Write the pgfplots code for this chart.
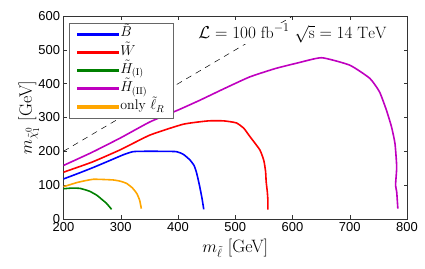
\documentclass[border=0pt]{standalone}
\usepackage{pgfplots}
\pgfplotsset{compat=1.18}
\usepackage{fontspec}
\newfontfamily\arialfont{Liberation Sans}
\definecolor{myblue}{rgb}{0,0,1}
\definecolor{myred}{rgb}{1,0,0}
\definecolor{mygreen}{rgb}{0,0.5,0}
\definecolor{mymag}{rgb}{0.75,0,0.75}
\definecolor{myorange}{rgb}{1,0.65,0}
\begin{document}
\begin{tikzpicture}
\useasboundingbox (-63.5bp,-50.2bp) rectangle (361.5bp,218.8bp);
\begin{axis}[
  scale only axis, width=343.5bp, height=202.6bp,
  xmin=200, xmax=800, ymin=0, ymax=600,
  xtick={200,300,...,800}, ytick={0,100,...,600},
  tick align=inside, tick pos=both,
  major tick length=3.5pt,
  axis line style={black!80, line width=0.6pt},
  every tick/.style={black!80, line width=0.5pt},
  /pgf/number format/assume math mode=true,
  tick label style={font=\arialfont\fontsize{13}{14}\selectfont},
  xlabel={\fontsize{18}{20}\selectfont$m_{\tilde\ell}$ [GeV]},
  ylabel={\fontsize{18}{20}\selectfont$m_{\tilde\chi_1^0}$ [GeV]},
  xlabel style={at={(axis description cs:0.5,-0.164)}, anchor=base},
  ylabel style={at={(axis description cs:-0.092,0.5)}, anchor=base},
  legend style={at={(0.016,0.968)}, anchor=north west, draw=black!60, line width=0.6pt,
    font=\fontsize{14}{15}\selectfont, row sep=2pt, inner xsep=7.5pt, inner ysep=3pt,
    nodes={inner sep=1pt, text height=10pt, text depth=4.3pt}},
  legend cell align=left,
  legend image code/.code={\fill[#1] (0bp,-0.75pt) rectangle (41bp,0.75pt);},
]
\addplot[color=myblue, line width=1.6pt, smooth, tension=0.3] coordinates {
(200,118)(225,134)(252,152)(280,172)(305,190)(322,199)(350,200)(397,199)(410,190)(421,174)(428,158)(432,139)(435,118)(438,95)(442,60)(445,28)};
\addlegendentry{$\tilde B$}
\addplot[color=myred, line width=1.6pt, smooth, tension=0.3] coordinates {
(200,138)(250,168)(300,205)(351,248)(409,280)(453,290)(480,290)(502,284)(515,268)(525,245)(543,204)(550,172)(553,140)(554,110)(556,80)(557,55)(557,27)};
\addlegendentry{$\tilde W$}
\addplot[color=mygreen, line width=1.6pt, smooth, tension=0.3] coordinates {
(200,89)(215,91)(229,90)(245,82)(258,70)(268,56)(275,46)(284,28)};
\addlegendentry{$\tilde H_{(\mathrm{I})}$}
\addplot[color=mymag, line width=1.6pt, smooth, tension=0.3] coordinates {
(200,158)(250,197)(300,240)(351,287)(400,322)(438,351)(480,385)(525,420)(570,445)(610,462)(651,477)(700,455)(735,416)(752,376)(764,322)(773,272)(779,223)(782,154)(780,100)(782,80)(784,30)};
\addlegendentry{$\tilde H_{(\mathrm{II})}$}
\addplot[color=myorange, line width=1.6pt, smooth, tension=0.3] coordinates {
(200,95)(225,108)(252,117)(287,115)(300,111)(310,105)(320,92)(328,75)(333,55)(336,30)};
\addlegendentry{only $\tilde\ell_R$}
\addplot[black, line width=0.5pt, dash pattern=on 6pt off 5pt, forget plot] coordinates {(200,200)(600,600)};
\node[anchor=base, fill=white, inner sep=1pt, font=\fontsize{16.5}{18}\selectfont] at (axis cs:600,534) {$\mathcal{L}=100\ \mathrm{fb}^{-1}\ \sqrt{\mathrm{s}}=14\ \mathrm{TeV}$};
\end{axis}
\end{tikzpicture}
\end{document}
